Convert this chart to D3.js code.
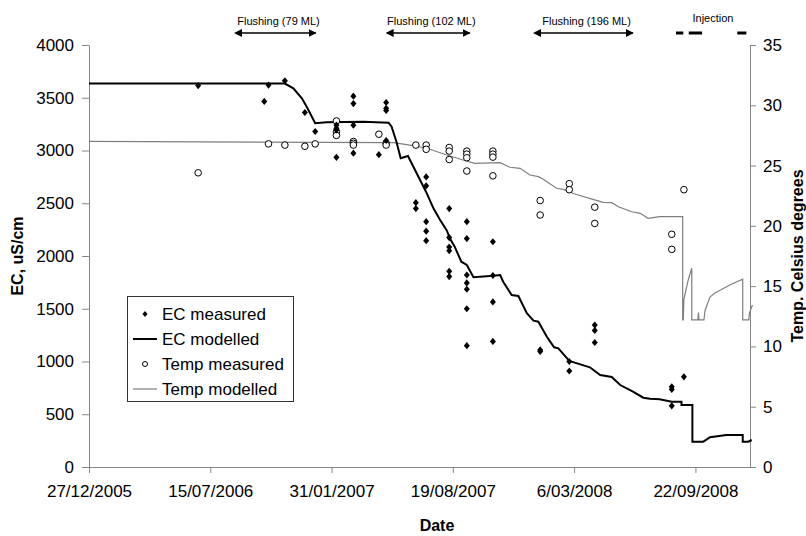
<!DOCTYPE html>
<html><head><meta charset="utf-8">
<script src="https://cdn.jsdelivr.net/npm/d3@7"></script>
<style>
body{margin:0;background:#fff;}
svg{display:block;font-family:"Liberation Sans",Arial,sans-serif;}
</style></head>
<body><svg id="chart" width="806" height="536"></svg>
<script>
// ---- Data ----
const xTickLabels = ["27/12/2005","15/07/2006","31/01/2007","19/08/2007","6/03/2008","22/09/2008"];
const ecTicks = [0,500,1000,1500,2000,2500,3000,3500,4000];
const tempTicks = [0,5,10,15,20,25,30,35];

const ecMeasuredDates = ["2006-06-25","2006-10-12","2006-10-19","2006-11-15","2006-12-18","2007-01-04",
 "2007-02-08","2007-02-08","2007-02-08","2007-02-08",
 "2007-03-08","2007-03-08","2007-03-08","2007-03-08","2007-04-19",
 "2007-05-01","2007-05-01","2007-05-01","2007-05-01",
 "2007-06-19","2007-06-19",
 "2007-07-06","2007-07-06","2007-07-06","2007-07-06","2007-07-06",
 "2007-08-13","2007-08-13","2007-08-13","2007-08-13","2007-08-13","2007-08-13",
 "2007-09-11","2007-09-11","2007-09-11","2007-09-11","2007-09-11","2007-09-11","2007-09-11",
 "2007-10-24","2007-10-24","2007-10-24","2007-10-24",
 "2008-01-10","2008-01-10","2008-02-27","2008-02-27",
 "2008-04-09","2008-04-09","2008-04-09",
 "2008-08-14","2008-08-14","2008-08-14","2008-09-03"];
const ecMeasuredValues = [3615,3465,3620,3660,3360,3180,
 3240,3210,3195,2935,
 3515,3445,3240,2975,2960,
 3455,3400,3380,3095,
 2505,2450,
 2750,2665,2325,2235,2145,
 2450,2175,2085,2050,1855,1805,
 2325,2165,1820,1745,1685,1500,1150,
 2135,1815,1565,1190,
 1110,1095,1000,910,
 1345,1295,1180,
 760,735,580,855];

const tempMeasuredDates = ["2006-06-25","2006-10-19","2006-11-15","2006-12-18","2007-01-04",
 "2007-02-08","2007-02-08","2007-02-08",
 "2007-03-08","2007-03-08","2007-03-08","2007-04-19",
 "2007-05-01","2007-05-01","2007-06-19","2007-07-06","2007-07-06",
 "2007-08-13","2007-08-13","2007-08-13",
 "2007-09-11","2007-09-11","2007-09-11","2007-09-11",
 "2007-10-24","2007-10-24","2007-10-24","2007-10-24",
 "2008-01-10","2008-01-10","2008-02-27","2008-02-27",
 "2008-04-09","2008-04-09","2008-08-14","2008-08-14","2008-09-03"];
const tempMeasuredValues = [24.4,26.8,26.7,26.6,26.8,
 28.7,27.8,27.5,
 27.0,26.85,26.7,27.6,
 26.85,26.7,26.7,26.7,26.35,
 26.5,26.2,25.5,
 26.2,25.95,25.65,24.55,
 26.2,25.95,25.7,24.15,
 22.1,20.9,23.5,23.0,
 21.55,20.2,19.3,18.05,23.0];

const ecModelDates = ["2005-12-27","2006-11-15","2006-11-29","2006-12-13","2006-12-21","2007-01-04",
 "2007-01-23","2007-03-24","2007-05-05","2007-05-10","2007-05-18","2007-05-25","2007-06-06",
 "2007-06-12","2007-06-26","2007-07-07","2007-07-18","2007-07-29","2007-08-09","2007-08-14",
 "2007-08-22","2007-09-02","2007-09-11","2007-09-22","2007-10-25","2007-11-05","2007-11-10",
 "2007-11-24","2007-12-05","2007-12-19","2007-12-30","2008-01-07","2008-01-21","2008-02-02",
 "2008-02-09","2008-02-27","2008-03-07","2008-04-01","2008-04-18","2008-05-07","2008-05-21",
 "2008-06-11","2008-06-28","2008-07-09","2008-07-25","2008-08-14","2008-08-30","2008-08-30",
 "2008-09-17","2008-09-17","2008-10-05","2008-10-16","2008-11-12","2008-12-09","2008-12-09",
 "2008-12-18","2008-12-24"];
const ecModelValues = [3635,3635,3590,3495,3415,3258,
 3267,3273,3264,3226,3083,2926,2948,
 2879,2720,2594,2452,2341,2242,2168,
 2088,1946,1915,1798,1813,1820,1756,
 1630,1621,1457,1387,1377,1235,1135,
 1125,1005,989,945,872,853,777,
 714,657,647,642,619,619,588,
 588,240,240,282,303,303,240,
 240,256];

const tempModelDates = ["2005-12-27","2007-05-13","2007-06-20","2007-07-12","2007-08-09","2007-09-05",
 "2007-09-24","2007-11-05","2007-11-21","2007-12-08","2007-12-24","2008-01-07","2008-01-15",
 "2008-02-06","2008-02-17","2008-03-07","2008-04-06","2008-04-23","2008-05-07","2008-05-18",
 "2008-06-09","2008-06-23","2008-07-06","2008-07-25","2008-09-01","2008-09-01","2008-09-02",
 "2008-09-03","2008-09-10","2008-09-16","2008-09-16","2008-09-26","2008-09-27","2008-09-28",
 "2008-10-06","2008-10-08","2008-10-16","2008-10-24","2008-11-07","2008-11-21","2008-12-09",
 "2008-12-09","2008-12-19","2008-12-20","2008-12-25"];
const tempModelValues = [27.0,26.9,26.62,26.35,25.88,25.46,
 25.19,25.24,24.86,24.77,24.22,24.08,23.86,
 23.12,23.03,22.64,22.2,21.95,21.92,21.59,
 21.17,21.04,20.63,20.76,20.76,12.2,12.2,
 13.9,15.5,16.48,12.2,12.2,12.8,12.2,
 12.2,13.0,14.1,14.43,14.8,15.18,15.57,
 12.2,12.2,12.77,13.44];

const flushLabels = ["Flushing (79 ML)","Flushing (102 ML)","Flushing (196 ML)"];
const flushStarts = ["2006-09-04","2007-05-12","2008-01-10"];
const flushEnds   = ["2007-01-05","2007-09-16","2008-06-11"];
const injectionLabel = "Injection";
const injectionStarts = ["2008-08-21","2008-09-11","2008-11-30"];
const injectionEnds   = ["2008-09-02","2008-10-03","2008-12-15"];

const legendLabels = ["EC measured","EC modelled","Temp measured","Temp modelled"];

// ---- Chart ----
const parse = d3.utcParse("%Y-%m-%d");
const svg = d3.select("#chart");
const L = 89, R = 750, T = 45, B = 467;
const x = d3.scaleUtc().domain([parse("2005-12-27"), parse("2008-12-21")]).range([L, R]);
const yEC = d3.scaleLinear().domain([0,4000]).range([B, T]);
const yT = d3.scaleLinear().domain([0,35]).range([B, T]);
const axisColor = "#868686";
const font = "Liberation Sans, Arial, sans-serif";

const xTickDates = xTickLabels.map(s => { const p = s.split("/"); return parse(`${p[2]}-${p[1]}-${p[0].padStart(2,"0")}`); });

function styleAxis(g, size){
  g.select(".domain").attr("stroke", axisColor);
  g.selectAll(".tick line").attr("stroke", axisColor);
  g.selectAll(".tick text").attr("fill","#000").style("font-size", size+"px").style("font-family", font);
}

const gx = svg.append("g").attr("transform", `translate(0,${B})`)
  .call(d3.axisBottom(x).tickValues(xTickDates).tickFormat((d,i)=>xTickLabels[i]).tickSizeInner(6).tickSizeOuter(0).tickPadding(12));
styleAxis(gx, 17);

const gl = svg.append("g").attr("transform", `translate(${L},0)`)
  .call(d3.axisLeft(yEC).tickValues(ecTicks).tickFormat(d3.format("d")).tickSizeInner(7).tickSizeOuter(0).tickPadding(8));
styleAxis(gl, 17);

const gr = svg.append("g").attr("transform", `translate(${R},0)`)
  .call(d3.axisRight(yT).tickValues(tempTicks).tickFormat(d3.format("d")).tickSizeInner(6).tickSizeOuter(0).tickPadding(7));
styleAxis(gr, 17);

// titles
svg.append("text").attr("x", 437).attr("y", 531).attr("text-anchor","middle")
  .style("font-size","16px").style("font-weight","bold").text("Date");
svg.append("text").attr("transform","translate(23,256) rotate(-90)").attr("text-anchor","middle")
  .style("font-size","16px").style("font-weight","bold").text("EC, uS/cm");
svg.append("text").attr("transform","translate(803,256) rotate(-90)").attr("text-anchor","middle")
  .style("font-size","16px").style("font-weight","bold").text("Temp. Celsius degrees");

// model lines
const tempModel = tempModelDates.map((d,i)=>({d:parse(d), v:tempModelValues[i]}));
const ecModel = ecModelDates.map((d,i)=>({d:parse(d), v:ecModelValues[i]}));
svg.append("path").datum(tempModel)
  .attr("d", d3.line().x(p=>x(p.d)).y(p=>yT(p.v)))
  .attr("fill","none").attr("stroke","#7f7f7f").attr("stroke-width",1.2);
svg.append("path").datum(ecModel)
  .attr("d", d3.line().x(p=>x(p.d)).y(p=>yEC(p.v)))
  .attr("fill","none").attr("stroke","#000").attr("stroke-width",2);

// measured
const diamond = (cx,cy,w,h)=>`M${cx},${cy-h}L${cx+w},${cy}L${cx},${cy+h}L${cx-w},${cy}Z`;
svg.append("g").selectAll("circle").data(tempMeasuredDates.map((d,i)=>({d:parse(d), v:tempMeasuredValues[i]})))
  .join("circle").attr("cx",p=>x(p.d)).attr("cy",p=>yT(p.v)).attr("r",3.3)
  .attr("fill","#fff").attr("stroke","#000").attr("stroke-width",1);
svg.append("g").selectAll("path").data(ecMeasuredDates.map((d,i)=>({d:parse(d), v:ecMeasuredValues[i]})))
  .join("path").attr("d",p=>diamond(x(p.d), yEC(p.v), 3, 3.6)).attr("fill","#000");

// annotations
const defs = svg.append("defs");
["s","e"].forEach(k=>{
  defs.append("marker").attr("id","ar"+k).attr("viewBox","0 0 10 10").attr("refX",k==="e"?9:1).attr("refY",5)
    .attr("markerWidth",8).attr("markerHeight",8).attr("markerUnits","userSpaceOnUse").attr("orient","auto-start-reverse")
    .append("path").attr("d","M0,0L10,5L0,10Z").attr("fill","#000");
});
flushLabels.forEach((lab,i)=>{
  const x0 = x(parse(flushStarts[i])), x1 = x(parse(flushEnds[i]));
  svg.append("line").attr("x1",x0).attr("x2",x1).attr("y1",33).attr("y2",33)
    .attr("stroke","#000").attr("stroke-width",1.6)
    .attr("marker-start","url(#ars)").attr("marker-end","url(#are)");
  svg.append("text").attr("x",(x0+x1)/2).attr("y",25).attr("text-anchor","middle")
    .style("font-size","11px").text(lab);
});
injectionStarts.forEach((s,i)=>{
  svg.append("line").attr("x1",x(parse(s))).attr("x2",x(parse(injectionEnds[i]))).attr("y1",33).attr("y2",33)
    .attr("stroke","#000").attr("stroke-width",3);
});
svg.append("text").attr("x",713).attr("y",22).attr("text-anchor","middle").style("font-size","11px").text(injectionLabel);

// legend
const lg = svg.append("g");
lg.append("rect").attr("x",127.5).attr("y",296.5).attr("width",166).attr("height",105)
  .attr("fill","#fff").attr("stroke","#333").attr("stroke-width",1);
const rows = [314,339,364,389];
legendLabels.forEach((lab,i)=>{
  const cy = rows[i];
  if(i===0) lg.append("path").attr("d",diamond(145,cy,2.5,3)).attr("fill","#000");
  if(i===1) lg.append("line").attr("x1",133).attr("x2",157).attr("y1",cy).attr("y2",cy).attr("stroke","#000").attr("stroke-width",2);
  if(i===2) lg.append("circle").attr("cx",145).attr("cy",cy).attr("r",2.5).attr("fill","#fff").attr("stroke","#000");
  if(i===3) lg.append("line").attr("x1",133).attr("x2",157).attr("y1",cy).attr("y2",cy).attr("stroke","#7f7f7f").attr("stroke-width",1.2);
  lg.append("text").attr("x",162).attr("y",cy).attr("dy","0.36em").style("font-size","17px").text(lab);
});
</script></body></html>
